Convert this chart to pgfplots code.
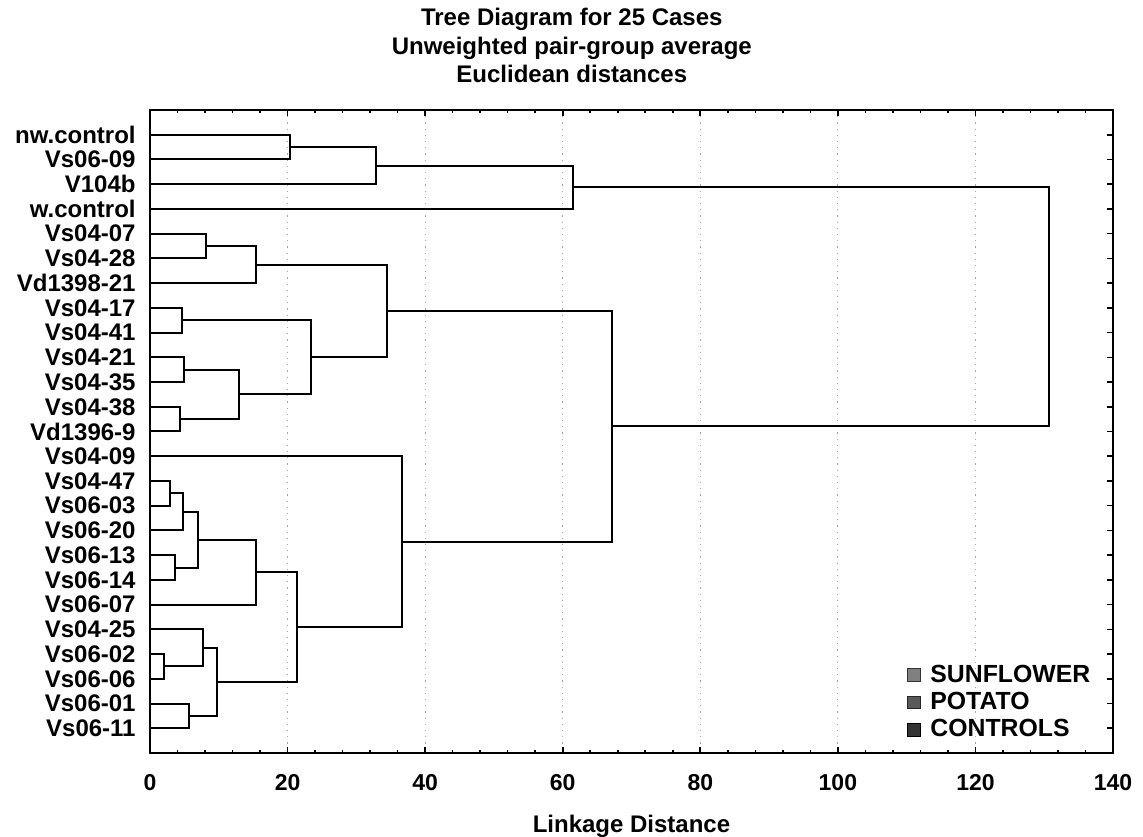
\documentclass[border=0pt]{standalone}
\usepackage{fontspec}
\setmainfont{Liberation Sans}
\usepackage{pgfplots}
\pgfplotsset{compat=1.18}

\pgfplotsset{tree/.style={black, line width=1pt, forget plot, line join=miter}}
\newcommand{\lbl}{\fontsize{12}{14}\selectfont\bfseries}

\begin{document}
\begin{tikzpicture}
\begin{axis}[
    scale only axis,
    width=481.5pt, height=321.5pt,
    xmin=0, xmax=140, ymin=-1, ymax=25,
    y dir=reverse,
    axis line style={line width=1pt},
    xtick={0,20,...,140},
    minor x tick num=4,
    ytick={0,...,24},
    yticklabels={nw.control,Vs06-09,V104b,w.control,Vs04-07,Vs04-28,Vd1398-21,
        Vs04-17,Vs04-41,Vs04-21,Vs04-35,Vs04-38,Vd1396-9,Vs04-09,Vs04-47,
        Vs06-03,Vs06-20,Vs06-13,Vs06-14,Vs06-07,Vs04-25,Vs06-02,Vs06-06,
        Vs06-01,Vs06-11},
    tick align=inside,
    xtick pos=both, ytick pos=both,
    major tick length=3pt, minor tick length=1.5pt,
    tick style={black, line width=0.8pt},
    /pgf/number format/assume math mode=true,
    xticklabel style={font=\fontsize{11.5}{13}\selectfont\bfseries, anchor=base, yshift=-18.5pt},
    yticklabel style={font=\lbl, inner xsep=0pt, xshift=-7pt},
    xmajorgrids,
    major x grid style={black!35, dash pattern=on 0.6pt off 2.5pt, line width=0.4pt},
    xlabel={Linkage Distance},
    xlabel style={font=\lbl, at={(axis description cs:0.5,0)}, anchor=base, yshift=-39.5pt},
    legend style={at={(0.779,0.147)}, anchor=north west, draw=none, fill=none,
        font=\fontsize{12.4}{14}\selectfont\bfseries, row sep=1.5pt, column sep=3pt,
        nodes={inner ysep=1pt}},
    legend cell align=left,
    legend image code/.code={\draw[#1, line width=0.4pt] (0pt,-3.2pt) rectangle (6.5pt,3.2pt);},
]
% dendrogram merges: child1 height, merge height, child2 height (rows 0..24)
\addplot[tree] coordinates {(0,0) (20.3,0) (20.3,1) (0,1)};
\addplot[tree] coordinates {(20.3,0.5) (32.8,0.5) (32.8,2) (0,2)};
\addplot[tree] coordinates {(32.8,1.25) (61.5,1.25) (61.5,3) (0,3)};
\addplot[tree] coordinates {(0,4) (8.2,4) (8.2,5) (0,5)};
\addplot[tree] coordinates {(8.2,4.5) (15.4,4.5) (15.4,6) (0,6)};
\addplot[tree] coordinates {(0,7) (4.6,7) (4.6,8) (0,8)};
\addplot[tree] coordinates {(0,9) (5.0,9) (5.0,10) (0,10)};
\addplot[tree] coordinates {(0,11) (4.4,11) (4.4,12) (0,12)};
\addplot[tree] coordinates {(5.0,9.5) (12.9,9.5) (12.9,11.5) (4.4,11.5)};
\addplot[tree] coordinates {(4.6,7.5) (23.4,7.5) (23.4,10.5) (12.9,10.5)};
\addplot[tree] coordinates {(15.4,5.25) (34.5,5.25) (34.5,9) (23.4,9)};
\addplot[tree] coordinates {(0,14) (2.9,14) (2.9,15) (0,15)};
\addplot[tree] coordinates {(2.9,14.5) (4.75,14.5) (4.75,16) (0,16)};
\addplot[tree] coordinates {(0,17) (3.6,17) (3.6,18) (0,18)};
\addplot[tree] coordinates {(4.75,15.25) (7.0,15.25) (7.0,17.5) (3.6,17.5)};
\addplot[tree] coordinates {(7.0,16.375) (15.4,16.375) (15.4,19) (0,19)};
\addplot[tree] coordinates {(0,21) (2.1,21) (2.1,22) (0,22)};
\addplot[tree] coordinates {(0,20) (7.75,20) (7.75,21.5) (2.1,21.5)};
\addplot[tree] coordinates {(0,23) (5.7,23) (5.7,24) (0,24)};
\addplot[tree] coordinates {(7.75,20.75) (9.8,20.75) (9.8,23.5) (5.7,23.5)};
\addplot[tree] coordinates {(15.4,17.6875) (21.3,17.6875) (21.3,22.125) (9.8,22.125)};
\addplot[tree] coordinates {(0,13) (36.6,13) (36.6,19.906) (21.3,19.906)};
\addplot[tree] coordinates {(34.5,7.125) (67.2,7.125) (67.2,16.453) (36.6,16.453)};
\addplot[tree] coordinates {(61.5,2.125) (130.7,2.125) (130.7,11.789) (67.2,11.789)};

\addlegendimage{fill=black!50, draw=black!80}
\addlegendentry{SUNFLOWER}
\addlegendimage{fill=black!65, draw=black!85}
\addlegendentry{POTATO}
\addlegendimage{fill=black!80, draw=black}
\addlegendentry{CONTROLS}

\coordinate (T) at (rel axis cs:0.438,1);
\end{axis}
\node[font=\lbl, anchor=base] at ([yshift=42pt]T) {Tree Diagram for 25 Cases};
\node[font=\lbl, anchor=base] at ([yshift=27.75pt]T) {Unweighted pair-group average};
\node[font=\lbl, anchor=base] at ([yshift=13.5pt]T) {Euclidean distances};
\pgfresetboundingbox
\path ([shift={(-75pt,-42pt)}]current axis.south west) rectangle ([shift={(15pt,55pt)}]current axis.north east);
\end{tikzpicture}
\end{document}
